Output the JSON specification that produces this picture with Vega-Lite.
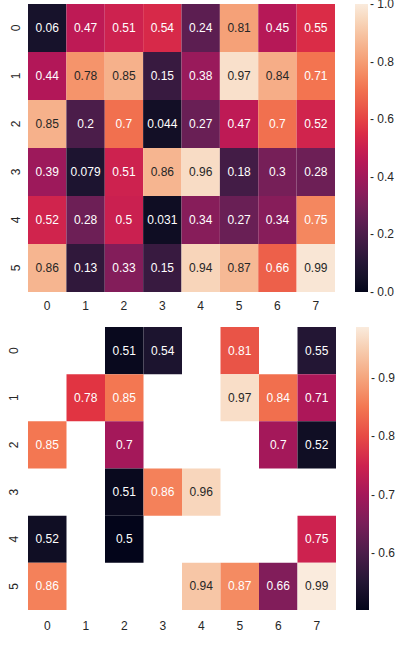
{
  "$schema": "https://vega.github.io/schema/vega-lite/v6.json",
  "background": "white",
  "padding": {"left": 6, "top": 4, "right": 0, "bottom": 0},
  "config": {
    "view": {"stroke": null},
    "axis": {"domain": false, "ticks": false, "title": null, "labelFontSize": 12, "labelFont": "Liberation Sans", "labelColor": "#262626", "grid": false},
    "legend": {"title": null, "gradientThickness": 13, "offset": 20, "labelFontSize": 12, "labelFont": "Liberation Sans", "labelColor": "#262626", "gradientStrokeWidth": 0, "labelOffset": 2, "labelBaseline": "middle"},
    "text": {"font": "Liberation Sans", "fontSize": 12}
  },
  "data": {"values": [
    {"r": 0, "c": 0, "v": 0.06}, {"r": 0, "c": 1, "v": 0.47}, {"r": 0, "c": 2, "v": 0.51}, {"r": 0, "c": 3, "v": 0.54}, {"r": 0, "c": 4, "v": 0.24}, {"r": 0, "c": 5, "v": 0.81}, {"r": 0, "c": 6, "v": 0.45}, {"r": 0, "c": 7, "v": 0.55},
    {"r": 1, "c": 0, "v": 0.44}, {"r": 1, "c": 1, "v": 0.78}, {"r": 1, "c": 2, "v": 0.85}, {"r": 1, "c": 3, "v": 0.15}, {"r": 1, "c": 4, "v": 0.38}, {"r": 1, "c": 5, "v": 0.97}, {"r": 1, "c": 6, "v": 0.84}, {"r": 1, "c": 7, "v": 0.71},
    {"r": 2, "c": 0, "v": 0.85}, {"r": 2, "c": 1, "v": 0.2}, {"r": 2, "c": 2, "v": 0.7}, {"r": 2, "c": 3, "v": 0.044}, {"r": 2, "c": 4, "v": 0.27}, {"r": 2, "c": 5, "v": 0.47}, {"r": 2, "c": 6, "v": 0.7}, {"r": 2, "c": 7, "v": 0.52},
    {"r": 3, "c": 0, "v": 0.39}, {"r": 3, "c": 1, "v": 0.079}, {"r": 3, "c": 2, "v": 0.51}, {"r": 3, "c": 3, "v": 0.86}, {"r": 3, "c": 4, "v": 0.96}, {"r": 3, "c": 5, "v": 0.18}, {"r": 3, "c": 6, "v": 0.3}, {"r": 3, "c": 7, "v": 0.28},
    {"r": 4, "c": 0, "v": 0.52}, {"r": 4, "c": 1, "v": 0.28}, {"r": 4, "c": 2, "v": 0.503}, {"r": 4, "c": 3, "v": 0.031}, {"r": 4, "c": 4, "v": 0.34}, {"r": 4, "c": 5, "v": 0.27}, {"r": 4, "c": 6, "v": 0.34}, {"r": 4, "c": 7, "v": 0.75},
    {"r": 5, "c": 0, "v": 0.86}, {"r": 5, "c": 1, "v": 0.13}, {"r": 5, "c": 2, "v": 0.33}, {"r": 5, "c": 3, "v": 0.15}, {"r": 5, "c": 4, "v": 0.94}, {"r": 5, "c": 5, "v": 0.87}, {"r": 5, "c": 6, "v": 0.66}, {"r": 5, "c": 7, "v": 0.987}
  ]},
  "spacing": 16,
  "resolve": {"scale": {"color": "independent"}, "legend": {"color": "independent"}},
  "vconcat": [
    {
      "width": 307, "height": 288,
      "encoding": {
        "x": {"field": "c", "type": "ordinal", "scale": {"domain": [0,1,2,3,4,5,6,7], "paddingInner": 0, "paddingOuter": 0}, "axis": {"labelAngle": 0, "labelPadding": 8}},
        "y": {"field": "r", "type": "ordinal", "scale": {"domain": [0,1,2,3,4,5], "paddingInner": 0, "paddingOuter": 0}, "axis": {"labelAngle": 270, "labelPadding": 6}}
      },
      "layer": [
        {"mark": {"type": "rect"},
         "encoding": {"color": {"field": "v", "type": "quantitative",
           "scale": {"domain": [0, 1], "nice": false, "zero": false, "range": ["#03051a", "#35193e", "#701f57", "#ad1759", "#e13342", "#f37651", "#f6b48f", "#faebdd"]},
           "legend": {"gradientLength": 288, "values": [0.0005, 0.2, 0.4, 0.6, 0.8, 0.9995], "labelExpr": "'- ' + format(datum.value, '.1f')"}}}},
        {"mark": {"type": "text"},
         "encoding": {"text": {"field": "v", "type": "quantitative", "format": ".2~g"},
           "color": {"condition": {"test": "datum.v >= 0.77", "value": "#262626"}, "value": "#ffffff"}}}
      ]
    },
    {
      "width": 308, "height": 283,
      "transform": [{"filter": "datum.v >= 0.5"}],
      "encoding": {
        "x": {"field": "c", "type": "ordinal", "scale": {"domain": [0,1,2,3,4,5,6,7], "paddingInner": 0, "paddingOuter": 0}, "axis": {"labelAngle": 0, "labelPadding": 10}},
        "y": {"field": "r", "type": "ordinal", "scale": {"domain": [0,1,2,3,4,5], "paddingInner": 0, "paddingOuter": 0}, "axis": {"labelAngle": 270, "labelPadding": 8}}
      },
      "layer": [
        {"mark": {"type": "rect"},
         "encoding": {"color": {"field": "v", "type": "quantitative",
           "scale": {"nice": false, "zero": false, "range": ["#03051a", "#35193e", "#701f57", "#ad1759", "#e13342", "#f37651", "#f6b48f", "#faebdd"]},
           "legend": {"gradientLength": 283, "values": [0.6, 0.7, 0.8, 0.9], "labelExpr": "'- ' + format(datum.value, '.1f')"}}}},
        {"mark": {"type": "text"},
         "encoding": {"text": {"field": "v", "type": "quantitative", "format": ".2~g"},
           "color": {"condition": {"test": "datum.v >= 0.9", "value": "#262626"}, "value": "#ffffff"}}}
      ]
    }
  ]
}
